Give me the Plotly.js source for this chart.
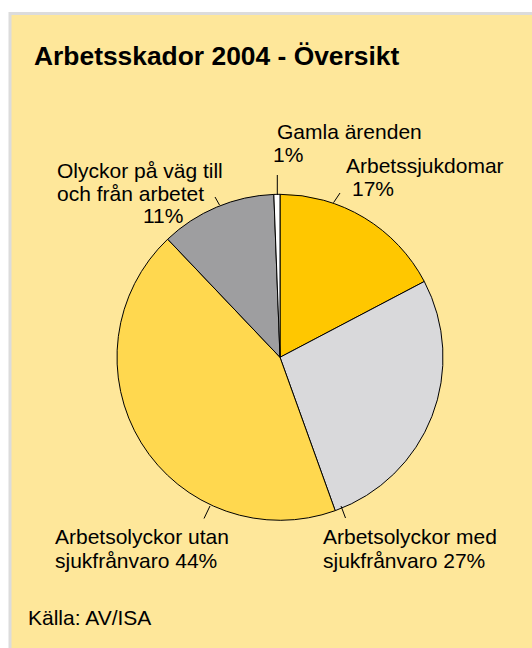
<!DOCTYPE html>
<html>
<head>
<meta charset="utf-8">
<script src="https://cdn.plot.ly/plotly-3.0.1.min.js"></script>
<style>html,body{margin:0;padding:0;background:#fff;}#chart{width:532px;height:648px;}</style>
</head>
<body>
<div id="chart"></div>
<script>
// ---- data ----
const categories = ['Arbetssjukdomar', 'Arbetsolyckor med sjukfrånvaro', 'Arbetsolyckor utan sjukfrånvaro', 'Olyckor på väg till och från arbetet', 'Gamla ärenden'];
const shares = [17.3, 27.2, 43.4, 11.5, 0.6];
const percentLabels = ['17%', '27%', '44%', '11%', '1%'];
const sliceColors = ['#FFC700', '#D9D9DB', '#FFD84F', '#9E9EA0', '#FFFFFF'];
const titleText = 'Arbetsskador 2004 - Översikt';
const sourceText = 'Källa: AV/ISA';

// ---- layout helpers (pixel -> paper) ----
const W = 532, H = 648;
const FONT = '"Liberation Sans", Arial, Helvetica, sans-serif';
const px = x => x / W;
const py = y => 1 - y / H;
const cx = 280, cy = 357.3, r = 163;

function txt(text, x, baseline, size) {
  return {
    text: text, xref: 'paper', yref: 'paper',
    x: px(x), y: py(baseline - 0.32 * size),
    xanchor: 'left', yanchor: 'middle', showarrow: false,
    borderpad: 0, borderwidth: 0,
    font: {family: FONT, size: size, color: '#000'}
  };
}
function tick(x0, y0, x1, y1) {
  return {type: 'line', xref: 'paper', yref: 'paper',
    x0: px(x0), y0: py(y0), x1: px(x1), y1: py(y1),
    line: {color: '#000', width: 1}};
}

const LS = 21;
const annotations = [
  txt('Gamla ärenden', 277, 138, LS),
  txt(percentLabels[4], 273, 161, LS),
  txt('Arbetssjukdomar', 346, 172, LS),
  txt(percentLabels[0], 352, 195, LS),
  txt('Olyckor på väg till', 57, 177, LS),
  txt('och från arbetet', 57, 200, LS),
  txt(percentLabels[3], 143, 222, LS),
  txt('Arbetsolyckor utan', 55, 543, LS),
  txt('sjukfrånvaro ' + percentLabels[2], 55, 567, LS),
  txt('Arbetsolyckor med', 323, 543, LS),
  txt('sjukfrånvaro ' + percentLabels[1], 323, 567, LS),
  txt(sourceText, 28, 624, LS)
];

const shapes = [
  {type: 'rect', xref: 'paper', yref: 'paper', layer: 'below',
   x0: px(10), y0: py(13.5), x1: 1.05, y1: -0.05,
   fillcolor: '#FEE79A', line: {color: '#DCDCDC', width: 3}},
  tick(277.3, 175, 277.3, 195),
  tick(333.5, 202.7, 340, 193),
  tick(215, 197, 219.5, 205),
  tick(210, 506, 204, 518.5),
  tick(341, 506, 345.5, 518)
];

const trace = {
  type: 'pie',
  labels: categories,
  values: shares,
  sort: false,
  direction: 'clockwise',
  rotation: 0,
  textinfo: 'none',
  hoverinfo: 'none',
  marker: {colors: sliceColors, line: {color: '#000', width: 1}},
  domain: {x: [px(cx - r), px(cx + r)], y: [py(cy + r), py(cy - r)]}
};

const layout = {
  width: W, height: H,
  margin: {l: 0, r: 0, t: 0, b: 0},
  paper_bgcolor: '#FFFFFF',
  showlegend: false,
  title: {
    text: '<b>' + titleText + '</b>',
    font: {family: FONT, size: 26.4, color: '#000'},
    xref: 'paper', x: px(34), xanchor: 'left',
    yref: 'container', y: py(64 - 0.32 * 26.4), yanchor: 'middle'
  },
  annotations: annotations,
  shapes: shapes
};

Plotly.newPlot('chart', [trace], layout, {displayModeBar: false, staticPlot: true});
</script>
</body>
</html>
